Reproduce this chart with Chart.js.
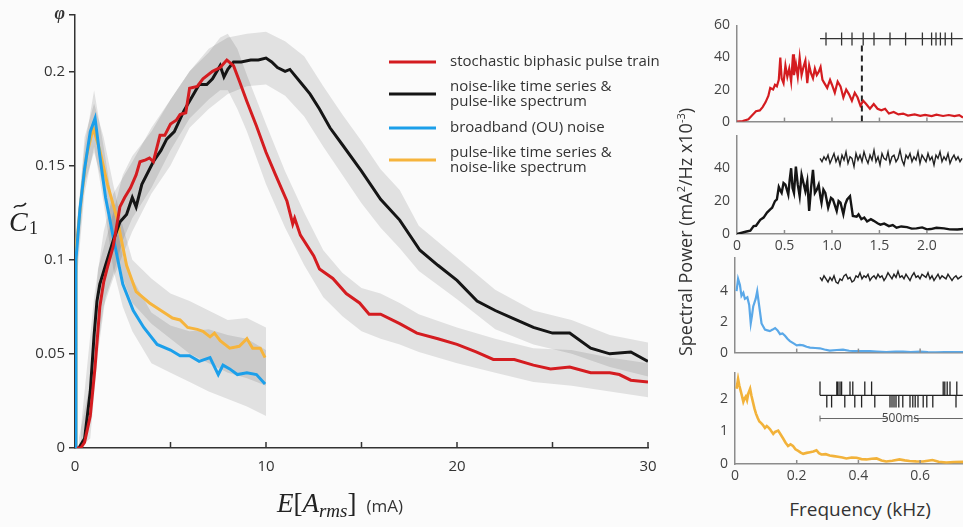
<!DOCTYPE html>
<html>
<head>
<meta charset="utf-8">
<script src="https://cdn.jsdelivr.net/npm/chart.js@4.4.1/dist/chart.umd.min.js"></script>
<style>
body { margin: 0; background: #fbfbfb; }
#wrap { position: relative; width: 963px; height: 527px; overflow: hidden; font-family: 'Open Sans', sans-serif; color: #333; }
canvas { position: absolute; }
.lbl { position: absolute; white-space: nowrap; text-align: center; }
#spLabel { left: 535px; top: 220px; width: 300px; height: 24px; line-height: 24px; font-size: 18px; transform: rotate(-90deg); }
#fqLabel { left: 760px; top: 496px; width: 200px; font-size: 19px; }
sup { font-size: 11px; line-height: 0; }
</style>
</head>
<body>
<div id="wrap">
  <canvas id="main" width="690" height="527" style="left:0;top:0"></canvas>
  <div class="lbl" id="spLabel">Spectral Power (mA<sup>2</sup>/Hz x10<sup>-3</sup>)</div>
  <div class="lbl" id="fqLabel">Frequency (kHz)</div>
</div>
<script>
// ---- left panel: C1 vs E[A_rms] (mA) ----
const seriesNames = [
  ['stochastic biphasic pulse train'],
  ['noise-like time series &', 'pulse-like spectrum'],
  ['broadband (OU) noise'],
  ['pulse-like time series &', 'noise-like spectrum']
];
const mainXTicks = [0, 5, 10, 15, 20, 25, 30];
const mainYTicks = [0, 0.05, 0.1, 0.15, 0.2, 0.23];

const redLine = [[0.1,0],[0.3,0],[0.5,0.003],[0.8,0.017],[1.05,0.043],[1.3,0.075],[1.5,0.088],[1.7,0.096],[2.0,0.107],
  [2.35,0.128],[2.6,0.133],[2.9,0.138],[3.2,0.145],[3.4,0.152],[3.7,0.153],[3.9,0.154],[4.1,0.152],[4.45,0.166],[4.7,0.166],
  [5.0,0.172],[5.3,0.174],[5.5,0.177],[5.8,0.178],[6.0,0.191],[6.4,0.192],[6.7,0.196],[7.2,0.2],[7.6,0.202],[7.95,0.206],
  [8.3,0.203],[8.6,0.195],[9.0,0.184],[9.5,0.171],[10.0,0.157],[10.5,0.145],[11.1,0.131],[11.4,0.119],[11.5,0.122],
  [11.8,0.113],[12.5,0.102],[12.8,0.095],[13.5,0.09],[14.2,0.082],[14.9,0.077],[15.4,0.071],[16,0.071],[17,0.066],
  [17.9,0.061],[19,0.058],[20,0.055],[21,0.051],[21.9,0.047],[23,0.047],[24,0.044],[24.9,0.042],[25.9,0.043],[27,0.04],
  [28,0.04],[28.5,0.039],[29.1,0.036],[30,0.035]];
const blackLine = [[0.2,0],[0.5,0.005],[0.8,0.03],[1.0,0.06],[1.15,0.078],[1.3,0.087],[1.6,0.097],[2.0,0.11],[2.35,0.12],
  [2.7,0.124],[3.0,0.133],[3.2,0.128],[3.5,0.14],[4.1,0.152],[4.5,0.158],[4.8,0.164],[5.2,0.168],[5.7,0.179],[6.1,0.186],
  [6.5,0.193],[6.9,0.193],[7.2,0.196],[7.6,0.203],[7.8,0.197],[8.0,0.201],[8.3,0.205],[8.7,0.205],[9.2,0.206],[9.6,0.206],
  [10.0,0.207],[10.3,0.205],[10.6,0.202],[11.0,0.2],[11.25,0.201],[11.9,0.193],[12.3,0.188],[12.8,0.18],[13.35,0.17],
  [14,0.161],[15,0.147],[16,0.132],[17,0.121],[18.06,0.105],[19,0.097],[20,0.089],[21.05,0.078],[22,0.073],[22.9,0.069],
  [24,0.064],[25,0.061],[25.9,0.061],[27,0.053],[28,0.05],[29.1,0.051],[30,0.046]];
const blueLine = [[0,0],[0.05,0.1],[0.26,0.127],[0.5,0.148],[0.8,0.168],[1.05,0.175],[1.3,0.155],[1.6,0.133],[2.0,0.112],
  [2.5,0.087],[3.05,0.073],[3.6,0.064],[4.3,0.055],[5.0,0.052],[5.5,0.049],[6.0,0.049],[6.5,0.046],[7.07,0.048],[7.5,0.039],
  [7.75,0.044],[8.1,0.042],[8.5,0.039],[9,0.04],[9.5,0.039],[9.95,0.034]];
const yellowLine = [[0,0],[0.05,0.105],[0.3,0.13],[0.6,0.155],[0.95,0.17],[1.3,0.158],[1.7,0.14],[2.2,0.122],[2.7,0.097],
  [3.2,0.083],[3.9,0.077],[4.8,0.071],[5.1,0.069],[5.5,0.068],[5.9,0.064],[6.4,0.063],[6.7,0.062],[7.07,0.059],[7.3,0.061],
  [7.6,0.057],[8.1,0.053],[8.6,0.054],[9.0,0.058],[9.3,0.053],[9.7,0.053],[9.95,0.048]];

// shaded spread: [x, low, high]
const redBand = [[0.2,0,0.005],[0.8,0.005,0.035],[1.2,0.05,0.095],[1.6,0.08,0.11],[2.0,0.092,0.125],[2.5,0.11,0.145],
  [3.0,0.122,0.155],[4.0,0.138,0.168],[5.0,0.158,0.185],[6.0,0.175,0.2],[7.0,0.185,0.21],[7.6,0.19,0.218],[8.0,0.19,0.22],
  [8.5,0.18,0.212],[9.0,0.168,0.198],[10,0.14,0.172],[11,0.117,0.147],[12,0.097,0.125],[13,0.08,0.105],[14,0.07,0.093],
  [15,0.062,0.085],[16,0.058,0.082],[17,0.055,0.077],[18,0.051,0.071],[20,0.045,0.064],[22,0.04,0.058],[24,0.035,0.053],
  [26,0.033,0.052],[28,0.03,0.048],[30,0.027,0.045]];
const blackBand = [[0.3,0,0.01],[1.0,0.04,0.08],[1.5,0.075,0.115],[2.0,0.09,0.135],[3.0,0.115,0.152],[4.0,0.135,0.17],
  [5.0,0.15,0.185],[6.0,0.17,0.2],[7.0,0.18,0.212],[8.0,0.188,0.218],[9.0,0.192,0.22],[10,0.193,0.221],[11,0.187,0.216],
  [12,0.176,0.208],[13,0.16,0.192],[14,0.145,0.177],[15,0.13,0.163],[16,0.117,0.148],[17,0.106,0.137],[18,0.094,0.118],
  [20,0.079,0.101],[22,0.063,0.084],[24,0.055,0.073],[26,0.05,0.068],[28,0.043,0.06],[30,0.038,0.056]];
const blueBand = [[0,0,0],[0.1,0.09,0.12],[0.5,0.135,0.16],[1.0,0.16,0.19],[1.5,0.13,0.16],[2.0,0.095,0.128],
  [2.5,0.075,0.102],[3.0,0.062,0.09],[4.0,0.045,0.072],[5.0,0.04,0.065],[6.0,0.035,0.062],[7.0,0.03,0.063],
  [8.0,0.026,0.06],[9.0,0.022,0.058],[10,0.017,0.052]];
const yellowBand = [[0.1,0.095,0.115],[0.5,0.14,0.165],[1.0,0.157,0.183],[1.5,0.138,0.165],[2.0,0.115,0.14],
  [2.5,0.09,0.118],[3.0,0.077,0.1],[4.0,0.066,0.09],[5.0,0.058,0.082],[6.0,0.05,0.078],[7.0,0.045,0.073],
  [8.0,0.04,0.068],[9.0,0.037,0.069],[10,0.033,0.064]];

// ---- right panels: spectra [kHz, power] ----
const specRed = [[0,0],[0.06,0.3],[0.12,1.5],[0.16,4],[0.2,6.5],[0.24,7],[0.27,9],[0.3,12],[0.33,16],[0.35,21],[0.38,20],
  [0.4,23],[0.42,22],[0.44,26],[0.456,40],[0.47,27],[0.49,24],[0.51,35],[0.53,28],[0.55,33],[0.57,25],[0.59,42],[0.6,29],
  [0.62,36],[0.64,28],[0.66,40],[0.68,29],[0.7,34],[0.72,38],[0.74,24],[0.76,35],[0.78,30],[0.8,27],[0.82,33],[0.84,29],
  [0.86,31],[0.88,34],[0.9,26],[0.92,24],[0.95,21],[0.98,26],[1.0,23],[1.03,18],[1.06,25],[1.09,22],[1.12,15],[1.15,20],
  [1.18,17],[1.21,13],[1.24,18],[1.27,15],[1.3,10],[1.33,13],[1.36,11],[1.4,8],[1.44,11],[1.48,8],[1.52,7],[1.56,8],
  [1.6,5],[1.65,6],[1.7,4.5],[1.75,5],[1.8,3.8],[1.87,4.5],[1.93,3.6],[1.98,4.2],[2.05,3.4],[2.1,4.3],[2.17,3.5],
  [2.23,4.1],[2.29,3.4],[2.34,4],[2.38,2.5]];
const specBlack = [[0,0],[0.1,1.5],[0.14,2],[0.175,4.8],[0.2,5],[0.245,8.6],[0.28,10],[0.316,13],[0.35,15],[0.37,16],
  [0.4,20],[0.42,21],[0.44,28.6],[0.46,26],[0.47,25],[0.49,31],[0.51,30],[0.53,26],[0.54,24],[0.555,33],[0.57,40],
  [0.585,28],[0.6,25],[0.62,41],[0.64,30],[0.66,23],[0.68,36],[0.7,31],[0.72,26],[0.74,32],[0.76,14],[0.78,28],[0.8,39],
  [0.82,25],[0.84,27],[0.86,30],[0.88,22],[0.89,19],[0.91,27],[0.93,25],[0.96,16],[0.99,22],[1.01,21],[1.05,14],
  [1.07,20],[1.09,19],[1.12,12],[1.14,18],[1.16,21],[1.19,23],[1.22,11],[1.26,10.5],[1.28,12],[1.31,9],[1.34,10],
  [1.37,7.6],[1.41,9],[1.44,8],[1.48,6.5],[1.51,5.7],[1.55,6.3],[1.6,4.8],[1.64,5.4],[1.68,3.8],[1.73,4.6],[1.79,4.2],
  [1.84,3.3],[1.89,3.4],[1.95,4],[2.0,2.8],[2.04,3],[2.1,3.8],[2.18,3.4],[2.24,2.8],[2.32,2.7],[2.38,3]];
const specBlue = [[0.005,4.0],[0.01,4.8],[0.016,4.4],[0.021,3.7],[0.027,3.9],[0.032,3.5],[0.04,3.6],[0.046,3.1],
  [0.051,1.9],[0.055,2.4],[0.059,3.0],[0.067,3.5],[0.072,4.0],[0.078,3.1],[0.086,1.9],[0.097,1.5],[0.105,1.45],
  [0.113,1.4],[0.122,1.5],[0.13,1.6],[0.138,1.45],[0.146,1.2],[0.154,1.25],[0.162,1.1],[0.17,0.9],[0.178,0.75],
  [0.19,0.6],[0.2,0.47],[0.21,0.5],[0.221,0.47],[0.232,0.38],[0.243,0.32],[0.26,0.3],[0.275,0.28],[0.29,0.2],
  [0.307,0.13],[0.33,0.17],[0.35,0.19],[0.37,0.12],[0.394,0.09],[0.415,0.1],[0.437,0.09],[0.46,0.07],[0.49,0.04],
  [0.52,0.06],[0.545,0.06],[0.57,0.04],[0.6,0.06],[0.625,0.03],[0.65,0.02],[0.68,0.04],[0.71,0.03],[0.739,0.04]];
const specYellow = [[0.005,2.3],[0.01,2.6],[0.014,2.4],[0.018,2.25],[0.022,2.1],[0.027,1.9],[0.031,2.0],[0.035,2.06],
  [0.039,1.95],[0.043,2.15],[0.049,2.3],[0.053,2.1],[0.058,1.9],[0.063,1.7],[0.068,1.54],[0.074,1.4],[0.079,1.3],
  [0.085,1.25],[0.09,1.2],[0.097,1.1],[0.103,1.16],[0.108,1.12],[0.113,1.07],[0.118,1.0],[0.124,0.92],[0.13,0.98],
  [0.14,1.02],[0.148,0.9],[0.156,0.78],[0.164,0.65],[0.172,0.55],[0.18,0.6],[0.188,0.55],[0.196,0.45],[0.205,0.4],
  [0.213,0.35],[0.221,0.31],[0.232,0.34],[0.243,0.36],[0.254,0.38],[0.264,0.42],[0.272,0.33],[0.28,0.29],[0.294,0.3],
  [0.307,0.26],[0.32,0.24],[0.334,0.22],[0.348,0.2],[0.361,0.17],[0.378,0.2],[0.394,0.19],[0.41,0.15],[0.426,0.14],
  [0.443,0.16],[0.459,0.17],[0.475,0.11],[0.49,0.075],[0.51,0.1],[0.533,0.14],[0.55,0.11],[0.566,0.094],[0.587,0.08],
  [0.609,0.075],[0.625,0.1],[0.64,0.12],[0.66,0.07],[0.685,0.047],[0.71,0.06],[0.739,0.066]];
const cutoffKHz = 1.315;

// insets (time in ms, 5 ms per noise sample)
const spikeTimes = [15, 54, 80, 108, 135, 175, 214, 256, 279, 290, 301, 313, 329];
const noiseBlack = [46,44,47,45,48,43,46,49,44,47,42,48,45,50,43,47,46,41,49,45,48,44,50,46,43,48,45,51,44,47,42,49,
  46,45,50,43,47,48,44,46,51,45,42,48,46,49,44,47,45,50,43,48,46,44,49,45,47,42,48,46,50,44,47,45,49,43,46,48,45,47,44,46];
const noiseOU = [4.9,4.7,5.0,4.8,4.6,4.9,4.7,5.0,4.6,4.5,4.8,4.7,5.0,5.1,4.8,4.9,4.6,4.7,5.0,4.9,5.2,4.8,5.0,4.9,5.1,
  4.7,4.9,5.0,4.8,5.1,4.9,5.0,4.7,4.9,5.2,5.0,4.8,5.1,4.9,5.3,4.9,5.0,4.8,5.1,4.9,4.7,5.0,5.2,4.9,5.0,4.8,5.1,5.0,4.9,
  5.2,4.8,5.0,4.7,4.9,5.1,4.8,5.0,4.9,4.8,5.1,4.9,4.7,4.9,5.0,4.8,4.9,5.0];
const rasterUp = [0, 42, 45, 50, 54, 75, 82, 112, 129, 308, 312, 318, 325, 342];
const rasterDown = [17, 29, 62, 87, 104, 137, 175, 180, 185, 190, 197, 207, 225, 232, 238, 245, 258, 267, 282, 340];
const scaleBarMs = 500;

const colors = { red: '#d41c20', black: '#151515', blue: '#1c9fea', yellow: '#f6b43c' };
Chart.defaults.font.family = "'Open Sans', sans-serif";

function pts(arr) { return arr.map(p => ({ x: p[0], y: p[1] })); }
function segs(list) {
  const out = [];
  list.forEach(s => { out.push({ x: s[0], y: s[1] }, { x: s[2], y: s[3] }, { x: s[2], y: null }); });
  return out;
}

// ---------- main chart ----------
const mainSets = [];
[[redLine, colors.red], [blackLine, colors.black], [blueLine, colors.blue], [yellowLine, colors.yellow]].forEach(([d, c]) => {
  mainSets.push({ data: pts(d), borderColor: c, borderWidth: 3, pointRadius: 0, fill: false, tension: 0 });
});
[redBand, blackBand, blueBand, yellowBand].forEach(b => {
  mainSets.push({ data: b.map(p => ({ x: p[0], y: p[1] })), borderWidth: 0, pointRadius: 0, fill: false });
  mainSets.push({ data: b.map(p => ({ x: p[0], y: p[2] })), borderWidth: 0, pointRadius: 0, fill: '-1',
    backgroundColor: 'rgba(0,0,0,0.1)' });
});

const mainDeco = {
  id: 'mainDeco',
  afterDraw(chart) {
    const c = chart.ctx, xs = chart.scales.x, a = chart.chartArea;
    c.save();
    c.strokeStyle = '#333';
    c.lineWidth = 1.5;
    mainXTicks.filter(v => v > 0).forEach(v => {
      const p = xs.getPixelForValue(v);
      c.beginPath(); c.moveTo(p, a.bottom); c.lineTo(p, a.bottom - 6); c.stroke();
    });
    // legend
    const rows = [[62, [62]], [94, [87, 102]], [128, [128]], [160, [153, 168]]];
    const cols = [colors.red, colors.black, colors.blue, colors.yellow];
    c.font = "15px 'Open Sans'";
    c.fillStyle = '#333';
    c.textBaseline = 'middle';
    rows.forEach((r, i) => {
      c.strokeStyle = cols[i]; c.lineWidth = 3;
      c.beginPath(); c.moveTo(389, r[0]); c.lineTo(436, r[0]); c.stroke();
      seriesNames[i].forEach((t, j) => c.fillText(t, 450, r[1][j]));
    });
    // y title C~1
    c.textBaseline = 'alphabetic';
    c.font = "italic 28px 'Liberation Serif'";
    c.fillStyle = '#222';
    c.fillText('C', 9, 231);
    c.strokeStyle = '#222'; c.lineWidth = 1.5;
    c.beginPath(); c.moveTo(14, 208); c.bezierCurveTo(17, 202, 21, 210, 26, 203); c.stroke();
    c.font = "18px 'Liberation Serif'";
    c.fillText('1', 29, 234);
    // x title E[A_rms] (mA)
    let x = 277;
    const base = 512;
    const put = (t, f, dy) => { c.font = f; c.fillText(t, x, base + (dy || 0)); x += c.measureText(t).width; };
    put('E', "italic 27px 'Liberation Serif'");
    put('[', "27px 'Liberation Serif'");
    put('A', "italic 27px 'Liberation Serif'");
    put('rms', "italic 19px 'Liberation Serif'", 5);
    put(']', "27px 'Liberation Serif'");
    x += 10;
    c.fillStyle = '#333';
    put('(mA)', "17px 'Open Sans'");
    c.restore();
  }
};

new Chart(document.getElementById('main'), {
  type: 'line',
  data: { datasets: mainSets },
  options: {
    responsive: false, animation: false, devicePixelRatio: 1,
    layout: { padding: { top: 13, right: 42, left: 0, bottom: 0 } },
    plugins: { legend: { display: false }, tooltip: { enabled: false }, filler: { drawTime: 'beforeDatasetsDraw' } },
    scales: {
      x: {
        type: 'linear', min: 0, max: 30,
        afterBuildTicks: s => { s.ticks = mainXTicks.map(v => ({ value: v })); },
        ticks: { padding: 10, font: { size: 15 }, color: '#333', maxRotation: 0, autoSkip: false,
          callback: v => (v % 10 === 0 ? String(v) : '') },
        grid: { display: false, drawTicks: false },
        border: { color: '#333', width: 1.5 },
        afterFit: s => { s.height = 79; }
      },
      y: {
        min: 0, max: 0.23,
        afterBuildTicks: s => { s.ticks = mainYTicks.map(v => ({ value: v })); },
        ticks: { padding: 4, color: '#333', autoSkip: false,
          font: ctx => (ctx.tick && ctx.tick.value > 0.22)
            ? { family: "'Liberation Serif'", size: 18, style: 'italic', weight: 'bold' }
            : { size: 15 },
          callback: v => (v > 0.22 ? 'φ' : String(+v.toFixed(2))) },
        grid: { display: true, drawOnChartArea: false, drawTicks: true, tickLength: 6, color: '#333', lineWidth: 1.5 },
        border: { color: '#333', width: 1.5 },
        afterFit: s => { s.width = 75; }
      }
    }
  },
  plugins: [mainDeco]
});

// ---------- right spectral panels ----------
function makePanel(o) {
  const padTop = 8;
  const cv = document.createElement('canvas');
  cv.width = 963 - 690;
  cv.height = o.bottom - o.top + padTop + o.xh;
  cv.style.left = '690px';
  cv.style.top = (o.top - padTop) + 'px';
  document.getElementById('wrap').appendChild(cv);
  const datasets = o.sets.map(s => ({
    data: s.data, xAxisID: s.time ? 'tx' : 'x', borderColor: s.color, borderWidth: s.width,
    borderDash: s.dash || [], pointRadius: 0, fill: false, spanGaps: false, tension: 0
  }));
  const deco = {
    id: 'panelDeco',
    afterDraw(chart) {
      const c = chart.ctx, xs = chart.scales.x, a = chart.chartArea;
      c.save();
      c.strokeStyle = '#8c8c8c'; c.lineWidth = 1.5;
      o.xTicks.filter(v => v > 0).forEach(v => {
        const p = xs.getPixelForValue(v);
        c.beginPath(); c.moveTo(p, a.bottom); c.lineTo(p, a.bottom - 4); c.stroke();
      });
      if (o.extra) o.extra(chart, c);
      c.restore();
    }
  };
  return new Chart(cv, {
    type: 'line',
    data: { datasets },
    options: {
      responsive: false, animation: false, devicePixelRatio: 1,
      layout: { padding: { top: padTop, left: 0, right: 0, bottom: 0 } },
      plugins: { legend: { display: false }, tooltip: { enabled: false } },
      scales: {
        x: {
          type: 'linear', min: 0, max: o.xMax,
          afterBuildTicks: s => { s.ticks = o.xTicks.map(v => ({ value: v })); },
          ticks: { display: o.xLabels, padding: 4, font: { size: 14 }, color: '#444', maxRotation: 0, autoSkip: false,
            callback: v => (v === 0 ? '0' : v.toFixed(1)) },
          grid: { display: false, drawTicks: false },
          border: { color: '#8c8c8c', width: 1.5 },
          afterFit: s => { s.height = o.xh; }
        },
        tx: { type: 'linear', axis: 'x', display: false, min: -(820 - o.left) / 0.4, max: (963 - 820) / 0.4 },
        y: {
          min: 0, max: o.yMax,
          afterBuildTicks: s => { s.ticks = o.yTicks.map(v => ({ value: v })); },
          ticks: { padding: 7, font: { size: 14 }, color: '#444', autoSkip: false },
          grid: { display: false, drawTicks: false },
          border: { color: '#8c8c8c', width: 1.5 },
          afterFit: s => { s.width = o.left - 690; }
        }
      }
    },
    plugins: [deco]
  });
}

makePanel({
  top: 18, bottom: 127, xh: 10, left: 737, xMax: 2.38, yMax: 60,
  xTicks: [0, 0.5, 1, 1.5, 2], yTicks: [0, 20, 40, 60], xLabels: false,
  sets: [
    { data: pts(specRed), color: colors.red, width: 2.2 },
    { data: [{ x: cutoffKHz, y: 0 }, { x: cutoffKHz, y: 49 }], color: '#222', width: 2, dash: [6, 4] },
    { data: segs([[0, 51.7, 357, 51.7]].concat(spikeTimes.map(t => [t, 47.5, t, 55.5]))), color: '#333', width: 1.3, time: true }
  ]
});
makePanel({
  top: 128, bottom: 234, xh: 22, left: 737, xMax: 2.38, yMax: 60,
  xTicks: [0, 0.5, 1, 1.5, 2], yTicks: [0, 20, 40], xLabels: true,
  sets: [
    { data: pts(specBlack), color: colors.black, width: 2.4 },
    { data: noiseBlack.map((v, i) => ({ x: i * 5, y: v })), color: '#222', width: 1.4, time: true }
  ]
});
makePanel({
  top: 250, bottom: 358, xh: 10, left: 735, xMax: 0.739, yMax: 6.2,
  xTicks: [0, 0.2, 0.4, 0.6], yTicks: [0, 2, 4], xLabels: false,
  sets: [
    { data: pts(specBlue), color: '#5aa8e8', width: 2.2 },
    { data: noiseOU.map((v, i) => ({ x: i * 5, y: v })), color: '#222', width: 1.4, time: true }
  ]
});
makePanel({
  top: 365, bottom: 464, xh: 22, left: 735, xMax: 0.739, yMax: 2.8,
  xTicks: [0, 0.2, 0.4, 0.6], yTicks: [0, 1, 2], xLabels: true,
  sets: [
    { data: pts(specYellow), color: '#f2b23a', width: 2.6 },
    { data: segs([[0, 2.1, 357, 2.1]].concat(rasterUp.map(t => [t, 2.1, t, 2.52]), rasterDown.map(t => [t, 2.1, t, 1.73]))),
      color: '#222', width: 1.3, time: true },
    { data: segs([[0, 1.39, 168, 1.39], [234, 1.39, 357, 1.39], [0, 1.3, 0, 1.48]]), color: '#666', width: 1, time: true }
  ],
  extra: (chart, c) => {
    c.font = "12px 'Open Sans'";
    c.fillStyle = '#444';
    c.textAlign = 'center';
    c.textBaseline = 'middle';
    c.fillText(scaleBarMs + 'ms', chart.scales.tx.getPixelForValue(201), chart.scales.y.getPixelForValue(1.39));
  }
});
</script>
</body>
</html>
